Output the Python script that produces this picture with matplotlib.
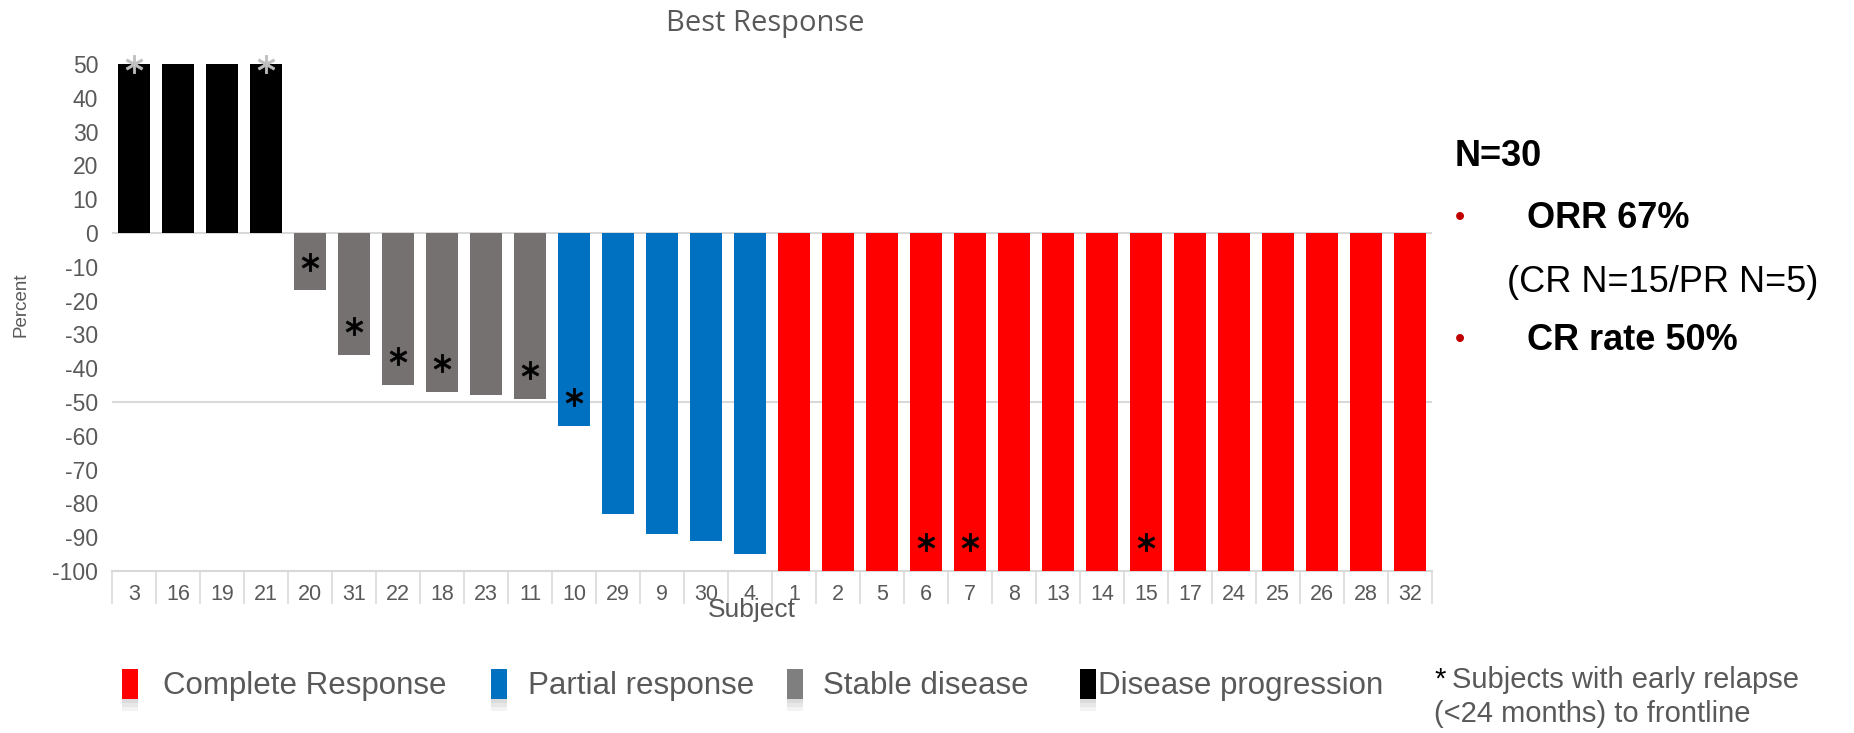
import matplotlib
matplotlib.use('Agg')
import matplotlib.pyplot as plt
import numpy as np
from matplotlib.patches import Rectangle

# ---------------- data ----------------
subjects = ['3', '16', '19', '21', '20', '31', '22', '18', '23', '11',
            '10', '29', '9', '30', '4', '1', '2', '5', '6', '7',
            '8', '13', '14', '15', '17', '24', '25', '26', '28', '32']
values = [50, 50, 50, 50, -17, -36, -45, -47, -48, -49,
          -57, -83, -89, -91, -95, -100, -100, -100, -100, -100,
          -100, -100, -100, -100, -100, -100, -100, -100, -100, -100]
response = ['PD'] * 4 + ['SD'] * 6 + ['PR'] * 5 + ['CR'] * 15
early_relapse = ['3', '21', '20', '31', '22', '18', '11', '10', '6', '7', '15']

legend_keys = ['CR', 'PR', 'SD', 'PD']
legend_labels = ['Complete Response', 'Partial response', 'Stable disease', 'Disease progression']
bar_colors = {'CR': '#FF0000', 'PR': '#0070C0', 'SD': '#767171', 'PD': '#000000'}
legend_colors = {'CR': '#FF0000', 'PR': '#0070C0', 'SD': '#7F7F7F', 'PD': '#000000'}

W, H = 1854, 733
fig = plt.figure(figsize=(W / 100, H / 100), dpi=100)

def fx(px):
    return px / W

def fy(py):
    return 1 - py / H

narrow = ['Liberation Sans Narrow', 'Liberation Sans', 'DejaVu Sans']
TXT = '#595959'

ax = fig.add_axes([fx(112), fy(571), fx(1432) - fx(112), fy(64) - fy(571)])
x = np.arange(len(subjects))
ax.bar(x, values, width=0.74, color=[bar_colors[r] for r in response], zorder=3)
ax.set_xlim(-0.5, len(subjects) - 0.5)
ax.set_ylim(-100, 50)

ax.axhline(0, color='#d9d9d9', lw=1.5, zorder=1)
ax.axhline(-50, color='#d9d9d9', lw=1.5, zorder=1)

for s in ['top', 'right', 'left']:
    ax.spines[s].set_visible(False)
ax.spines['bottom'].set_color('#d9d9d9')
ax.spines['bottom'].set_linewidth(1.5)

ax.set_yticks(range(-100, 51, 10))
ax.set_yticklabels([str(v) for v in range(-100, 51, 10)], family=narrow, fontsize=16.5, color=TXT)
ax.tick_params(axis='y', length=0, pad=10)

ax.set_xticks(x)
ax.set_xticklabels(subjects, family=narrow, fontsize=15.5, color=TXT)
ax.set_xticks(np.arange(-0.5, len(subjects), 1), minor=True)
ax.tick_params(axis='x', which='major', length=0, pad=9)
ax.tick_params(axis='x', which='minor', length=24, width=1.2, color='#d9d9d9')

# early relapse markers
for s in early_relapse:
    i = subjects.index(s)
    v = values[i]
    if v > 0:
        y, c = v, '#bfbfbf'
    else:
        y, c = v + 8.5, 'black'
    ax.plot(i, y, marker=r'$\ast$', ms=13, color=c, mew=0.5, clip_on=False, zorder=5)

fig.text(fx(765), fy(24), 'Best Response', ha='center', va='center',
         family=['Open Sans', 'DejaVu Sans'], fontsize=21, color=TXT)
fig.text(fx(21), fy(305), 'Percent', ha='center', va='center', rotation=90,
         family=narrow, fontsize=13.5, color=TXT)
fig.text(fx(752), fy(610), 'Subject', ha='center', va='center',
         family=narrow, fontsize=19, color=TXT)

# right-side summary
lib = ['Liberation Sans', 'DejaVu Sans']
fig.text(fx(1455), fy(157), 'N=30', ha='left', va='center', family=lib,
         fontsize=26, fontweight='bold', color='black')
fig.text(fx(1455), fy(218), '\u2022', ha='left', va='center', family=lib,
         fontsize=21, color='#C00000')
fig.text(fx(1527), fy(218), 'ORR 67%', ha='left', va='center', family=lib,
         fontsize=26, fontweight='bold', color='black')
fig.text(fx(1507), fy(283), '(CR N=15/PR N=5)', ha='left', va='center', family=lib,
         fontsize=26, color='black')
fig.text(fx(1455), fy(340), '\u2022', ha='left', va='center', family=lib,
         fontsize=21, color='#C00000')
fig.text(fx(1527), fy(340), 'CR rate 50%', ha='left', va='center', family=lib,
         fontsize=26, fontweight='bold', color='black')

# legend
sq_x = {'CR': 122, 'PR': 491, 'SD': 787, 'PD': 1080}
tx_x = {'CR': 163, 'PR': 528, 'SD': 823, 'PD': 1098}
for k, lab in zip(legend_keys, legend_labels):
    x0 = sq_x[k]
    for j, a in enumerate([0.45, 0.3, 0.15]):
        fig.patches.append(Rectangle((fx(x0), fy(699 + 4 * (j + 1))), fx(16), fy(699 + 4 * j) - fy(699 + 4 * (j + 1)),
                                     transform=fig.transFigure, color='#b0b0b0', alpha=a, lw=0))
    fig.patches.append(Rectangle((fx(x0), fy(699)), fx(16), fy(669) - fy(699),
                                 transform=fig.transFigure, color=legend_colors[k], lw=0))
    fig.text(fx(tx_x[k]), fy(686), lab, ha='left', va='center', family=narrow,
             fontsize=22.5, color=TXT)

fig.text(fx(1434), fy(680), '*', ha='left', va='center', family=narrow,
         fontsize=21, color='black')
fig.text(fx(1452), fy(680), 'Subjects with early relapse', ha='left', va='center', family=narrow,
         fontsize=21, color=TXT)
fig.text(fx(1434), fy(714), '(<24 months) to frontline', ha='left', va='center', family=narrow,
         fontsize=21, color=TXT)

fig.savefig('out.png', dpi=100)
